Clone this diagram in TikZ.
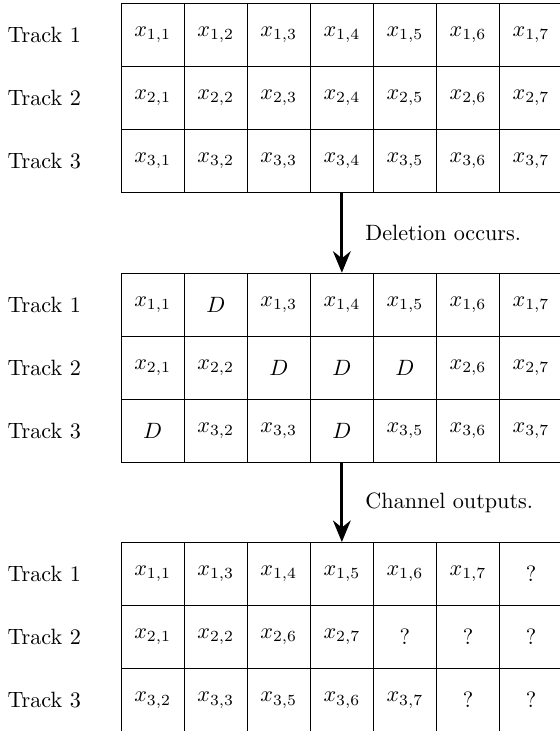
\documentclass[tikz,border=0pt]{standalone}
\usetikzlibrary{arrows.meta,calc}

\tikzset{
  cell/.style={draw, minimum width=1cm, minimum height=1cm, inner sep=0pt, anchor=center},
  tracklabel/.style={anchor=center},
  flow/.style={line width=1.4pt, -{Stealth[length=3.4mm, width=2.8mm, inset=1.1mm]}},
  flowlabel/.style={anchor=west}
}

\begin{document}
\begin{tikzpicture}
\useasboundingbox (-1.921,0.052) rectangle (6.959,-11.54);

% Three 3x7 grids, stacked from top to bottom
\def\gtopA{0}
\def\gtopB{-4.28}
\def\gtopC{-8.55}

% --- input sequences ---
\foreach \r in {1,2,3}{
  \foreach \c in {1,...,7}{
    \node[cell] (a-\r-\c) at (\c-0.5, \gtopA-\r+0.5) {$x_{\r,\c}$};
  }
  \node[tracklabel] (la-\r) at (-1.22, \gtopA-\r+0.5) {Track \r};
}

% --- sequences with deletions marked ---
\foreach \txt [count=\c] in {{$x_{1,1}$},{$D$},{$x_{1,3}$},{$x_{1,4}$},{$x_{1,5}$},{$x_{1,6}$},{$x_{1,7}$}}
  \node[cell] (b-1-\c) at (\c-0.5, \gtopB-0.5) {\txt};
\foreach \txt [count=\c] in {{$x_{2,1}$},{$x_{2,2}$},{$D$},{$D$},{$D$},{$x_{2,6}$},{$x_{2,7}$}}
  \node[cell] (b-2-\c) at (\c-0.5, \gtopB-1.5) {\txt};
\foreach \txt [count=\c] in {{$D$},{$x_{3,2}$},{$x_{3,3}$},{$D$},{$x_{3,5}$},{$x_{3,6}$},{$x_{3,7}$}}
  \node[cell] (b-3-\c) at (\c-0.5, \gtopB-2.5) {\txt};
\foreach \r in {1,2,3}
  \node[tracklabel] (lb-\r) at (-1.22, \gtopB-\r+0.5) {Track \r};

% --- channel outputs ---
\foreach \txt [count=\c] in {{$x_{1,1}$},{$x_{1,3}$},{$x_{1,4}$},{$x_{1,5}$},{$x_{1,6}$},{$x_{1,7}$},{?}}
  \node[cell] (c-1-\c) at (\c-0.5, \gtopC-0.5) {\txt};
\foreach \txt [count=\c] in {{$x_{2,1}$},{$x_{2,2}$},{$x_{2,6}$},{$x_{2,7}$},{?},{?},{?}}
  \node[cell] (c-2-\c) at (\c-0.5, \gtopC-1.5) {\txt};
\foreach \txt [count=\c] in {{$x_{3,2}$},{$x_{3,3}$},{$x_{3,5}$},{$x_{3,6}$},{$x_{3,7}$},{?},{?}}
  \node[cell] (c-3-\c) at (\c-0.5, \gtopC-2.5) {\txt};
\foreach \r in {1,2,3}
  \node[tracklabel] (lc-\r) at (-1.22, \gtopC-\r+0.5) {Track \r};

% --- transitions ---
\draw[flow] (a-3-4.south) -- (b-1-4.north);
\node[flowlabel] (t1) at ($(a-3-4.south)!0.5!(b-1-4.north)+(0.25,0)$) {Deletion occurs.};

\draw[flow] (b-3-4.south) -- (c-1-4.north);
\node[flowlabel] (t2) at ($(b-3-4.south)!0.5!(c-1-4.north)+(0.25,0)$) {Channel outputs.};
\end{tikzpicture}
\end{document}
